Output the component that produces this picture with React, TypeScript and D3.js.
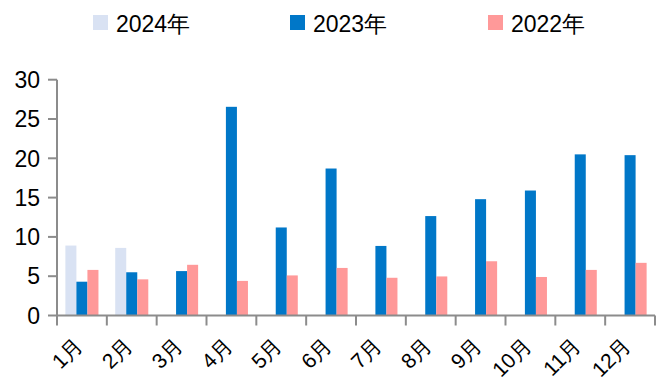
import React from "react";
import * as d3 from "d3";

const months = ["1月", "2月", "3月", "4月", "5月", "6月", "7月", "8月", "9月", "10月", "11月", "12月"];
const seriesNames = ["2024年", "2023年", "2022年"];
const seriesColors = ["#D9E2F3", "#0077C8", "#FF9999"];
const values2024: (number | null)[] = [8.9, 8.6, null, null, null, null, null, null, null, null, null, null];
const values2023: (number | null)[] = [4.3, 5.5, 5.65, 26.55, 11.2, 18.7, 8.85, 12.65, 14.8, 15.9, 20.5, 20.4];
const values2022: (number | null)[] = [5.8, 4.6, 6.45, 4.4, 5.1, 6.05, 4.8, 4.97, 6.9, 4.9, 5.8, 6.7];
const yTicks = [0, 5, 10, 15, 20, 25, 30];

const W = 663;
const H = 385;
const left = 57;
const right = 655;
const top = 79.7;
const bottom = 315.5;
const font = "'Liberation Sans', Arial, sans-serif";
const axisColor = "#8C8C8C";

export default function App() {
  const allSeries = [values2024, values2023, values2022];
  const x = d3.scaleBand<string>().domain(months).range([left, right]).paddingInner(0).paddingOuter(0);
  const xs = d3.scaleBand<string>().domain(seriesNames).range([0, x.bandwidth()]).paddingInner(0).paddingOuter(0.76);
  const y = d3.scaleLinear().domain([0, 30]).range([bottom, top]);
  const tickXs = months.map((m) => x(m) as number).concat([right]);
  const legendX = [93, 290, 488];

  return (
    <svg width={W} height={H} style={{ position: "absolute", left: 0, top: 0, background: "#fff" }} fontFamily={font}>
      {/* legend */}
      {seriesNames.map((s, i) => (
        <g key={s}>
          <rect x={legendX[i]} y={15} width={15} height={15} fill={seriesColors[i]} />
          <text x={legendX[i] + 23} y={31.5} fontSize={23} fill="#000">{s}</text>
        </g>
      ))}
      {/* bars */}
      {allSeries.map((vals, si) =>
        vals.map((v, mi) =>
          v == null ? null : (
            <rect
              key={`${si}-${mi}`}
              x={(x(months[mi]) as number) + (xs(seriesNames[si]) as number)}
              y={y(v)}
              width={xs.bandwidth()}
              height={y(0) - y(v)}
              fill={seriesColors[si]}
            />
          )
        )
      )}
      {/* y axis */}
      <line x1={left} x2={left} y1={top} y2={bottom} stroke={axisColor} strokeWidth={2} />
      {yTicks.map((t) => (
        <g key={t}>
          <line x1={left - 9} x2={left} y1={y(t)} y2={y(t)} stroke={axisColor} strokeWidth={2} />
          <text x={left - 17} y={y(t)} dy="0.36em" textAnchor="end" fontSize={23} fill="#000">{t}</text>
        </g>
      ))}
      {/* x axis */}
      <line x1={left} x2={right} y1={bottom} y2={bottom} stroke={axisColor} strokeWidth={2} />
      {tickXs.map((tx, i) => (
        <line key={i} x1={tx} x2={tx} y1={bottom} y2={bottom + 10} stroke={axisColor} strokeWidth={2} />
      ))}
      {months.map((m) => {
        const cx = (x(m) as number) + x.bandwidth() / 2 + 2;
        const cy = 347;
        return (
          <text key={m} x={cx} y={cy} textAnchor="end" fontSize={21} fill="#000" transform={`rotate(-45 ${cx} ${cy})`}>
            {m}
          </text>
        );
      })}
    </svg>
  );
}
